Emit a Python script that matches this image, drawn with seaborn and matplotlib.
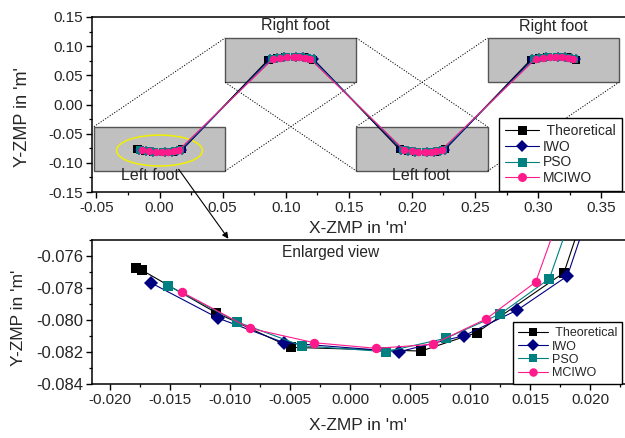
import numpy as np
import pandas as pd
import matplotlib
matplotlib.use("Agg")
import matplotlib.pyplot as plt
import seaborn as sns
from matplotlib.patches import Rectangle, Ellipse
from matplotlib.ticker import MultipleLocator, FormatStrFormatter

# ZMP samples over one support phase, relative to the foot centre (left foot)
theo_x = [-0.01783, -0.01736, -0.01117, -0.00494, 0.00592, 0.01056, 0.01783]
theo_y = [-0.07677, -0.07688, -0.07954, -0.08171, -0.08194, -0.08079, -0.07704]
iwo_x = [-0.01661, -0.01097, -0.00550, 0.00411, 0.00950, 0.01394, 0.01811]
iwo_y = [-0.07767, -0.07989, -0.08142, -0.08198, -0.08098, -0.07938, -0.07725]
pso_x = [-0.01514, -0.00944, -0.00403, 0.00300, 0.00800, 0.01250, 0.01661]
pso_y = [-0.07786, -0.08011, -0.08161, -0.08198, -0.08114, -0.07963, -0.07742]
mciwo_x = [-0.01403, -0.00833, -0.00298, 0.00217, 0.00689, 0.01133, 0.01547]
mciwo_y = [-0.07825, -0.08052, -0.08142, -0.08177, -0.08152, -0.07994, -0.07763]

series_names = ["Theoretical", "IWO", "PSO", "MCIWO"]
legend_labels = [" Theoretical", "IWO", "PSO", "MCIWO"]
series_colors = ["#000000", "#000080", "#008080", "#FF1A8C"]
series_markers = ["s", "D", "s", "o"]

# Walking steps: foot centre along X and side (+1 left foot below, -1 right foot above)
step_centres = [0.0, 0.104, 0.208, 0.312]
step_side = [1, -1, 1, -1]
foot_names = ["Left foot", "Right foot", "Left foot", "Right foot"]

# ---------------------------------------------------------------------------
sns.set_theme(style="ticks")
plt.rcParams["font.family"] = ["Liberation Sans", "DejaVu Sans"]
plt.rcParams["axes.unicode_minus"] = False

phase = {
    "Theoretical": (theo_x, theo_y),
    "IWO": (iwo_x, iwo_y),
    "PSO": (pso_x, pso_y),
    "MCIWO": (mciwo_x, mciwo_y),
}
rows = []
for name in series_names:
    px, py = phase[name]
    k = 0
    for c, s in zip(step_centres, step_side):
        for xv, yv in zip(px, py):
            rows.append({"series": name, "x": xv + c, "y": yv * s, "k": k})
            k += 1
df = pd.DataFrame(rows)

W, H = 625, 438
fig = plt.figure(figsize=(W / 100, H / 100), dpi=100)
fig.patch.set_facecolor("white")


def fig_rect(left, top, right, bottom):
    return [left / W, 1 - bottom / H, (right - left) / W, (bottom - top) / H]


ax1 = fig.add_axes(fig_rect(92, 17, 627, 192))
ax2 = fig.add_axes(fig_rect(92, 240, 627, 384))

palette = dict(zip(series_names, series_colors))
markers = dict(zip(series_names, series_markers))


def draw(ax, ms, lw):
    sns.lineplot(data=df, x="x", y="y", hue="series", style="series",
                 hue_order=series_names, style_order=series_names,
                 palette=palette, markers=markers, dashes=False,
                 sort=False, estimator=None, units="series",
                 markersize=ms, markeredgewidth=0, linewidth=lw,
                 legend=False, ax=ax, zorder=3)
    return list(ax.lines)[:4]


# ---- overall trajectory -------------------------------------------------
h1 = draw(ax1, 5.4, 0.8)

half_w = 0.052
y_in, y_out = 0.038, 0.114
rects = []
for c, s in zip(step_centres, step_side):
    x0, x1 = c - half_w, c + half_w
    if s > 0:
        y0, y1 = -y_out, -y_in
    else:
        y0, y1 = y_in, y_out
    ax1.add_patch(Rectangle((x0, y0), x1 - x0, y1 - y0, facecolor="#C0C0C0",
                            edgecolor="#555555", lw=1.0, zorder=1))
    rects.append((x0, x1, y0, y1))

# projection lines between consecutive foot boxes
dot = dict(color="black", lw=0.7, ls=(0, (1.2, 1.6)), zorder=1.5)
for i in range(len(rects) - 1):
    a0, a1, ab, at = rects[i]
    b0, b1, bb, bt = rects[i + 1]
    if step_side[i] > 0:
        ax1.plot([a0, b0], [at, bt], **dot)
        ax1.plot([a1, b1], [ab, bb], **dot)
    else:
        ax1.plot([a1, b1], [at, bt], **dot)
        ax1.plot([a0, b0], [ab, bb], **dot)

label_pos = [(-0.0075, -0.1225), (0.1078, 0.1355), (0.207, -0.1225), (0.3118, 0.1345)]
for (tx, ty), name in zip(label_pos, foot_names):
    ax1.text(tx, ty, name, ha="center", va="center", fontsize=11.5, zorder=4)

ax1.add_patch(Ellipse((0.0, -0.0789), 0.068, 0.053, fill=False,
                      edgecolor="#F0F000", lw=1.1, zorder=2))

ax1.set_xlim(-0.0535, 0.3704)
ax1.set_ylim(-0.15, 0.15)
ax1.xaxis.set_major_locator(MultipleLocator(0.05))
ax1.xaxis.set_minor_locator(MultipleLocator(0.025))
ax1.yaxis.set_major_locator(MultipleLocator(0.05))
ax1.yaxis.set_minor_locator(MultipleLocator(0.025))
ax1.xaxis.set_major_formatter(FormatStrFormatter("%.2f"))
ax1.yaxis.set_major_formatter(FormatStrFormatter("%.2f"))

ax1.legend(h1, legend_labels, loc="lower left", bbox_to_anchor=(0.761, 0.004),
           fontsize=10, frameon=True, fancybox=False, framealpha=1,
           edgecolor="black", handlelength=2.4, handletextpad=0.3,
           labelspacing=0.12, borderpad=0.45, borderaxespad=0,
           markerscale=1.2)

# ---- enlarged view ------------------------------------------------------
h2 = draw(ax2, 6.8, 0.8)
ax2.set_xlim(-0.0215, 0.02308)
ax2.set_ylim(-0.084, -0.075)
ax2.xaxis.set_major_locator(MultipleLocator(0.005))
ax2.xaxis.set_minor_locator(MultipleLocator(0.0025))
ax2.yaxis.set_major_locator(MultipleLocator(0.002))
ax2.yaxis.set_minor_locator(MultipleLocator(0.001))
ax2.xaxis.set_major_formatter(FormatStrFormatter("%.3f"))
ax2.yaxis.set_major_formatter(FormatStrFormatter("%.3f"))
ax2.text(-0.00158, -0.0758, "Enlarged view", ha="center", va="center", fontsize=11.2)

ax2.legend(h2, legend_labels, loc="lower left", bbox_to_anchor=(0.787, 0.0),
           fontsize=9, frameon=True, fancybox=False, framealpha=1,
           edgecolor="black", handlelength=2.4, handletextpad=0.3,
           labelspacing=0.1, borderpad=0.4, borderaxespad=0,
           markerscale=0.9)

# ---- common styling -----------------------------------------------------
for ax, tfs_x, tfs_y in ((ax1, 11, 11), (ax2, 11, 12)):
    for side in ("left", "bottom", "top", "right"):
        ax.spines[side].set_color("black")
        ax.spines[side].set_linewidth(1.1)
    ax.tick_params(which="major", direction="out", length=4.5, width=1.0,
                   color="black", top=False, right=False)
    ax.tick_params(which="minor", direction="out", length=2.5, width=0.9,
                   color="black", top=False, right=False)
    ax.tick_params(axis="x", labelsize=tfs_x, pad=2)
    ax.tick_params(axis="y", labelsize=tfs_y, pad=2)
    ax.set_facecolor("white")
    ax.grid(False)

ax1.set_xlabel("X-ZMP in 'm'", fontsize=12.5)
ax1.set_ylabel("Y-ZMP in 'm'", fontsize=13)
ax2.set_xlabel("X-ZMP in 'm'", fontsize=12.5)
ax2.set_ylabel("Y-ZMP in 'm'", fontsize=12.5)
ax1.xaxis.set_label_coords(0.497, -0.165)
ax1.yaxis.set_label_coords(-0.114, 0.431)
ax2.xaxis.set_label_coords(0.497, -0.235)
ax2.yaxis.set_label_coords(-0.124, 0.458)

# arrow from the highlighted foot to the enlarged view
fig.add_artist(matplotlib.patches.FancyArrowPatch(
    (177 / W, 1 - 167 / H), (230 / W, 1 - 241 / H),
    transform=fig.transFigure, arrowstyle="-|>", mutation_scale=9,
    color="black", lw=0.8, zorder=10))

fig.savefig("out.png", dpi=100, facecolor="white")
